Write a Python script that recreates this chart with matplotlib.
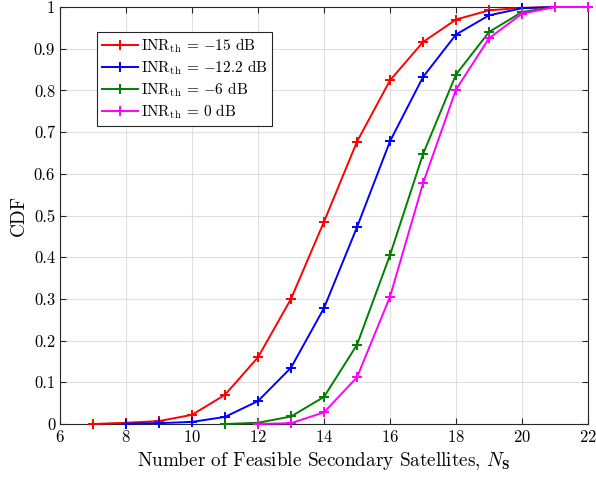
import matplotlib
matplotlib.use("Agg")
import matplotlib.pyplot as plt

plt.rcParams['font.family'] = 'serif'
plt.rcParams['font.serif'] = ['cmr10']
plt.rcParams['mathtext.fontset'] = 'cm'
plt.rcParams['axes.formatter.use_mathtext'] = True
plt.rcParams['axes.unicode_minus'] = True

x_red = [7, 8, 9, 10, 11, 12, 13, 14, 15, 16, 17, 18, 19, 20, 21, 22]
y_red = [0, 0.003, 0.007, 0.022, 0.07, 0.16, 0.30, 0.485, 0.677, 0.824, 0.916, 0.97, 0.992, 0.998, 1, 1]
x_blue = [8, 9, 10, 11, 12, 13, 14, 15, 16, 17, 18, 19, 20, 21, 22]
y_blue = [0.001, 0.002, 0.005, 0.017, 0.055, 0.135, 0.278, 0.472, 0.678, 0.832, 0.934, 0.98, 0.997, 1, 1]
x_green = [11, 12, 13, 14, 15, 16, 17, 18, 19, 20, 21, 22]
y_green = [0, 0.003, 0.018, 0.065, 0.19, 0.405, 0.647, 0.838, 0.94, 0.988, 1, 1]
x_mag = [12, 13, 14, 15, 16, 17, 18, 19, 20, 21, 22]
y_mag = [0, 0.002, 0.028, 0.112, 0.305, 0.577, 0.802, 0.925, 0.984, 1, 1]

labels = [r'INR$_{\mathrm{th}}$ = $-$15 dB', r'INR$_{\mathrm{th}}$ = $-$12.2 dB',
          r'INR$_{\mathrm{th}}$ = $-$6 dB', r'INR$_{\mathrm{th}}$ = 0 dB']
colors = ['#ff0000', '#0000ff', '#008000', '#ff00ff']

fig = plt.figure(figsize=(5.96, 4.78), dpi=100)
ax = fig.add_axes([60/596, 1-424/478, 528/596, 417/478])

for xs, ys, lab, c in zip([x_red, x_blue, x_green, x_mag], [y_red, y_blue, y_green, y_mag], labels, colors):
    ax.plot(xs, ys, color=c, marker='+', markersize=7, markeredgewidth=1.4, linewidth=1.4,
            label=lab, clip_on=False, zorder=3)

ax.set_xlim(6, 22)
ax.set_ylim(0, 1)
ax.set_xticks(range(6, 23, 2))
ax.set_yticks([i/10 for i in range(11)])
ax.set_yticklabels(['0'] + [f'{i/10:g}' for i in range(1, 10)] + ['1'])
ax.grid(True, color='#e0e0e0', linewidth=0.8)
ax.set_axisbelow(True)
ax.tick_params(direction='in', top=True, right=True, labelsize=12, length=4, color='#262626')
for s in ax.spines.values():
    s.set_color('#262626')
    s.set_linewidth(0.8)
ax.set_xlabel(r'Number of Feasible Secondary Satellites, $N_{\mathbf{S}}$', fontsize=13.8)
ax.set_ylabel('CDF', fontsize=13.8)

leg = ax.legend(loc='upper left', bbox_to_anchor=(0.07, 0.94), fontsize=11, frameon=True,
                fancybox=False, edgecolor='#262626', framealpha=1, handlelength=2.4,
                borderpad=0.3, labelspacing=0.22, handletextpad=0.2, borderaxespad=0)
leg.get_frame().set_linewidth(0.8)
leg.set_zorder(5)

fig.savefig('out.png', dpi=100)
